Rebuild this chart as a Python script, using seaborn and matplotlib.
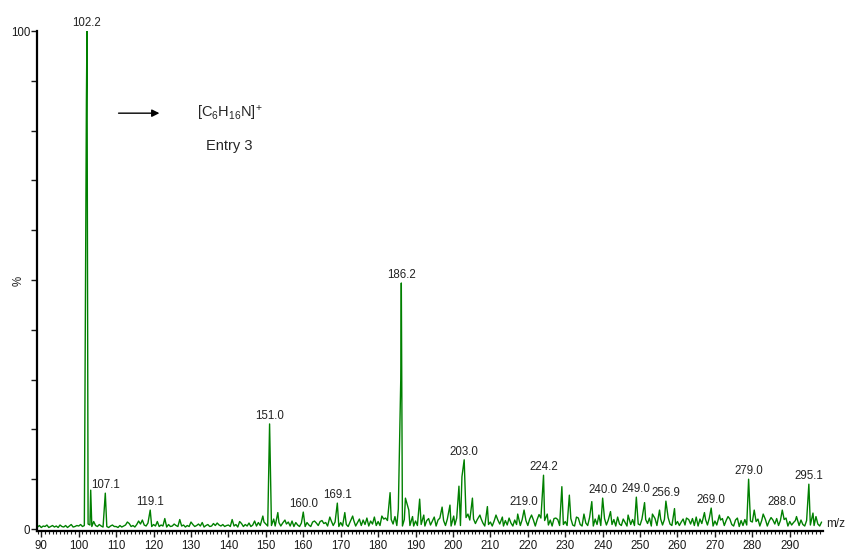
"""Espectro de masas (ESI+) - Entry 3, recreado con seaborn."""
import matplotlib
matplotlib.use("Agg")
import matplotlib.pyplot as plt
import numpy as np
import pandas as pd
import seaborn as sns
from matplotlib.ticker import MultipleLocator, FuncFormatter

# --- datos leídos del espectro ------------------------------------------
# ruido de línea base (%), cada 0.5 m/z desde 89.0 hasta 298.5
noise = [
    # 89.0 - 99.5
    0.4, 0.7, 0.3, 0.6, 0.5, 0.8, 0.3, 0.5, 0.7, 0.4, 0.6, 0.3, 0.8, 0.5, 0.4, 0.7, 0.3, 0.6, 0.9, 0.4, 0.5, 0.7,
    # 100
    0.6, 0.9, 0.5, 0.7, 0.6, 1.0, 0.8, 0.5, 0.4, 0.7, 0.5, 0.9, 0.6, 0.4, 0.7, 0.5, 0.3, 0.6, 0.8, 0.5,
    # 110
    0.5, 0.3, 0.7, 0.4, 0.6, 0.8, 0.4, 1.1, 0.5, 0.7, 0.4, 0.9, 0.6, 1.0, 0.5, 0.8, 0.6, 1.2, 0.7, 0.5,
    # 120
    0.9, 0.6, 1.1, 0.5, 0.8, 0.6, 0.7, 0.4, 0.9, 0.5, 0.6, 1.0, 0.7, 0.5, 1.2, 0.6, 0.8, 0.4, 0.7, 0.5,
    # 130
    0.6, 0.9, 0.5, 0.7, 1.0, 0.6, 0.8, 0.4, 0.7, 0.9, 0.5, 0.6, 1.1, 0.7, 0.5, 0.8, 0.6, 0.9, 0.5, 0.7,
    # 140
    0.8, 0.5, 1.0, 0.6, 0.9, 0.4, 0.8, 1.1, 0.5, 0.9, 0.6, 1.2, 0.5, 0.8, 1.0, 0.6, 1.3, 0.7, 1.0, 1.4,
    # 150
    1.0, 0.6, 1.2, 0.7, 1.5, 0.6, 1.1, 1.3, 0.6, 1.2, 0.5, 1.0, 1.4, 0.6, 1.1, 0.5, 1.3, 0.8, 0.5, 1.2,
    # 160
    1.1, 0.5, 1.3, 0.8, 0.5, 1.4, 0.6, 1.2, 0.7, 1.5, 0.5, 1.1, 1.3, 0.6, 1.2, 1.6, 0.7, 1.4, 0.9, 0.5,
    # 170
    1.3, 0.6, 1.6, 0.9, 0.5, 1.4, 0.8, 1.7, 0.6, 1.3, 1.5, 0.7, 1.8, 0.9, 1.4, 0.6, 1.6, 1.0, 1.9, 0.7,
    # 180
    1.5, 0.7, 1.2, 2.0, 0.8, 1.7, 0.6, 1.9, 1.0, 2.1, 0.7, 1.8, 1.2, 0.6, 1.9, 0.9, 2.0, 0.7, 1.7, 0.6,
    # 190
    1.6, 0.7, 2.0, 0.9, 1.8, 0.6, 1.7, 2.1, 0.8, 1.6, 1.9, 0.6, 1.8, 2.2, 0.9, 1.7, 0.7, 2.0, 1.1, 0.6,
    # 200
    1.8, 0.8, 2.2, 1.0, 0.7, 1.9, 0.9, 2.3, 0.7, 1.8, 0.6, 2.0, 1.1, 1.9, 0.7, 2.1, 1.2, 0.6, 2.0, 0.9,
    # 210
    1.4, 0.6, 1.6, 0.7, 1.8, 1.0, 2.1, 0.6, 1.7, 0.8, 1.9, 1.2, 0.6, 1.8, 0.9, 2.2, 0.7, 1.9, 0.8, 1.7,
    # 220
    0.7, 2.0, 1.0, 1.8, 0.6, 1.9, 1.1, 2.2, 0.7, 1.7, 2.0, 0.8, 1.8, 0.6, 2.1, 1.0, 1.9, 0.7, 2.3, 0.9,
    # 230
    1.5, 0.7, 1.4, 2.1, 0.8, 0.6, 1.8, 2.2, 0.9, 0.6, 2.0, 1.2, 0.7, 2.3, 1.0, 0.6, 2.0, 0.9, 1.9, 0.7,
    # 240
    1.7, 2.1, 0.8, 1.8, 2.4, 0.9, 1.9, 0.6, 2.2, 1.0, 0.7, 2.0, 1.3, 0.6, 2.3, 0.9, 1.9, 0.7, 2.1, 1.0,
    # 250
    0.8, 2.0, 0.7, 1.9, 1.1, 2.2, 0.6, 1.8, 2.1, 0.7, 1.4, 2.0, 0.8, 1.9, 0.6, 2.3, 1.0, 0.7, 2.0, 0.9,
    # 260
    1.5, 0.7, 1.4, 2.0, 0.8, 0.6, 1.9, 1.0, 2.1, 0.7, 1.8, 0.6, 2.0, 1.1, 0.6, 1.9, 0.8, 2.2, 1.0, 0.6,
    # 270
    1.6, 0.8, 1.4, 1.8, 2.1, 0.7, 1.7, 0.6, 2.0, 0.9, 0.6, 1.8, 1.0, 0.5, 1.7, 0.7, 1.9, 0.8, 0.6, 1.6,
    # 280
    1.4, 0.7, 1.5, 2.0, 0.6, 1.7, 0.9, 1.9, 0.6, 1.6, 0.5, 1.8, 1.0, 2.1, 0.7, 1.7, 0.6, 1.9, 1.0, 0.6,
    # 290 - 298.5
    1.5, 0.8, 1.3, 1.7, 2.0, 0.7, 1.8, 0.9, 0.6, 1.7, 2.1, 0.8, 1.9, 0.7, 1.8, 1.0, 0.6, 1.4,
]
noise_start, noise_step = 89.0, 0.5

# picos (m/z, intensidad relativa %)
peak_mz = [
    102.05, 102.2, 103.2, 104.0, 107.1, 113.0, 116.0, 117.0, 119.1, 121.0,
    123.0, 127.0, 130.0, 133.0, 137.0, 141.0, 143.0, 147.0, 149.2, 151.0,
    152.1, 153.2, 155.1, 157.0, 160.0, 163.0, 165.0, 167.1, 169.1, 171.1,
    173.2, 175.0, 177.0, 179.0, 181.0, 182.0, 183.2, 184.5, 185.4, 186.05,
    186.2, 187.3, 188.2, 189.2, 191.1, 192.2, 195.0, 197.1, 199.2, 200.2,
    201.6, 202.4, 203.0, 204.0, 205.2, 207.2, 209.2, 211.5, 213.2, 215.0,
    217.3, 219.0, 221.0, 223.0, 224.2, 225.2, 227.5, 229.1, 231.1, 233.0,
    235.0, 237.1, 239.0, 240.0, 242.1, 244.0, 246.8, 249.0, 251.2, 253.3,
    255.2, 256.9, 259.2, 262.4, 265.0, 267.2, 269.0, 271.2, 273.5, 276.0,
    279.0, 280.5, 282.9, 285.0, 288.0, 289.0, 291.8, 295.1, 296.2, 297.0,
]
peak_int = [
    86.0, 100.0, 7.8, 1.5, 7.2, 1.4, 1.6, 1.8, 3.8, 1.5,
    2.1, 1.9, 1.4, 1.3, 1.2, 1.9, 1.5, 1.6, 2.6, 21.1,
    2.0, 3.3, 1.8, 1.6, 3.4, 1.6, 1.7, 2.4, 5.2, 3.3,
    2.6, 2.0, 2.2, 2.4, 2.6, 2.2, 7.3, 2.5, 4.0, 30.0,
    49.4, 6.2, 3.8, 2.5, 6.0, 2.8, 2.4, 4.4, 4.8, 2.6,
    8.6, 10.5, 13.9, 3.0, 6.2, 2.8, 4.5, 2.8, 2.4, 2.2,
    3.0, 3.8, 2.8, 2.9, 10.8, 3.0, 2.2, 8.5, 6.8, 2.4,
    3.0, 5.5, 2.8, 6.2, 3.5, 2.4, 2.8, 6.4, 5.3, 3.0,
    3.8, 5.6, 4.1, 2.2, 2.4, 3.3, 4.2, 2.8, 2.5, 2.2,
    10.0, 3.8, 3.0, 2.3, 3.8, 2.2, 2.5, 9.0, 3.2, 2.5,
]

# picos etiquetados
labelled_mz = [102.2, 107.1, 119.1, 151.0, 160.0, 169.1, 186.2, 203.0, 219.0,
               224.2, 240.0, 249.0, 256.9, 269.0, 279.0, 288.0, 295.1]

# --- construir el perfil ---------------------------------------------------
noise_mz = noise_start + noise_step * np.arange(len(noise))
peak_arr = np.array(peak_mz)
keep = np.array([np.min(np.abs(peak_arr - m)) > 0.2 for m in noise_mz])
df = pd.DataFrame({
    "mz": np.concatenate([noise_mz[keep], peak_arr]),
    "intensidad": np.concatenate([np.array(noise)[keep], peak_int]),
}).sort_values("mz")

# --- figura ----------------------------------------------------------------
sns.set_style("ticks")
plt.rcParams["font.family"] = ["Liberation Sans", "DejaVu Sans"]
plt.rcParams["mathtext.default"] = "regular"

fig = plt.figure(figsize=(8.46, 5.52), dpi=100)
ax = fig.add_axes([37 / 846, 1 - 530.5 / 552, 785.7 / 846, 499.5 / 552])

sns.lineplot(data=df, x="mz", y="intensidad", estimator=None, sort=False,
             color="#008000", lw=1.0, ax=ax)

ax.set_xlim(88.85, 298.8)
ax.set_ylim(-0.3, 100)
ax.set_xlabel(""); ax.set_ylabel("")

ax.xaxis.set_major_locator(MultipleLocator(10))
ax.xaxis.set_minor_locator(MultipleLocator(1))
ax.yaxis.set_major_locator(MultipleLocator(10))
ax.yaxis.set_major_formatter(FuncFormatter(lambda v, p: f"{v:.0f}" if v in (0, 100) else ""))
ax.tick_params(axis="x", which="major", length=4.5, width=1, labelsize=8.3, pad=2, colors="#1a1a1a")
ax.tick_params(axis="x", which="minor", length=2.5, width=0.8, colors="#1a1a1a")
ax.tick_params(axis="y", which="major", length=4, width=1, labelsize=8.3, pad=1, colors="#1a1a1a")
for side in ("top", "right"):
    ax.spines[side].set_visible(False)
for side in ("left", "bottom"):
    ax.spines[side].set_linewidth(1.6)
    ax.spines[side].set_color("black")

# etiquetas de picos
lookup = dict(zip(peak_mz, peak_int))
for m in labelled_mz:
    ax.annotate(f"{m:.1f}", xy=(m, lookup[m]), xytext=(0, 1.5), textcoords="offset points",
                ha="center", va="bottom", fontsize=8.3, color="#222222")

ax.text(-0.023, 0.5, "%", transform=ax.transAxes, rotation=90,
        ha="center", va="center", fontsize=8.3, color="#222222")
ax.text(1.005, 0.014, "m/z", transform=ax.transAxes, ha="left", va="center",
        fontsize=8.5, color="#222222")

# flecha y fórmula
ax.annotate("", xy=(122.3, 83.5), xytext=(109.9, 83.5),
            arrowprops=dict(arrowstyle="-|>", color="black", lw=1.0, mutation_scale=11))
ax.text(140.4, 83.5, r"$[C_6H_{16}N]^{{+}}$", ha="center", va="center", fontsize=10.5)
ax.text(140.2, 76.9, "Entry 3", ha="center", va="center", fontsize=10.5)

fig.savefig("out.png", dpi=100)
plt.close(fig)
